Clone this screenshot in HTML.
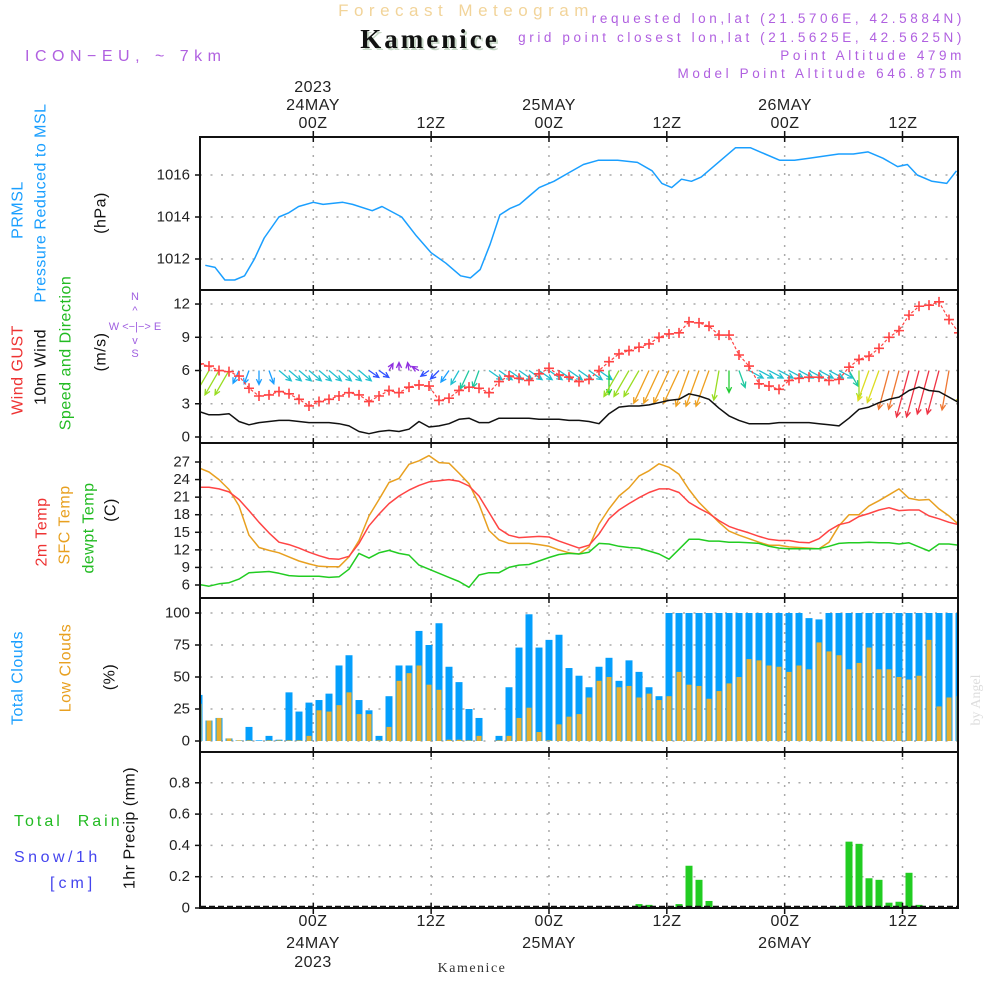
<!DOCTYPE html>
<html><head><meta charset="utf-8"><title>Meteogram Kamenice</title>
<style>
html,body{margin:0;padding:0;background:#fff;}
svg{display:block;font-family:"Liberation Sans",sans-serif;}
.tk{font-size:15px;fill:#222;text-anchor:end;dominant-baseline:central;}
.lbl{font-size:16px;dominant-baseline:central;text-anchor:middle;letter-spacing:0.5px;}
.tl{font-size:16px;fill:#222;text-anchor:middle;letter-spacing:0.5px;}
</style></head>
<body>
<svg id="chart" width="1000" height="1000" viewBox="0 0 1000 1000" xmlns="http://www.w3.org/2000/svg">
<rect x="0" y="0" width="1000" height="1000" fill="#fff"/>
<!-- header -->
<text x="466" y="16" font-size="17" fill="#f2d49a" text-anchor="middle" letter-spacing="5.5">Forecast Meteogram</text>
<text x="432" y="50" font-size="27" font-weight="bold" font-family="Liberation Serif, serif" fill="#c8d8c8" text-anchor="middle" letter-spacing="3">Kamenice</text>
<text x="430" y="48" font-size="27" font-weight="bold" font-family="Liberation Serif, serif" fill="#111" text-anchor="middle" letter-spacing="3">Kamenice</text>
<text x="25" y="61" font-size="16" fill="#b060e0" letter-spacing="5.5">ICON−EU, ~ 7km</text>
<g font-size="13.5" fill="#b060e0" text-anchor="end" letter-spacing="3.6">
<text x="965" y="23">requested lon,lat (21.5706E, 42.5884N)</text>
<text x="965" y="42">grid point closest lon,lat (21.5625E, 42.5625N)</text>
<text x="965" y="60">Point Altitude 479m</text>
<text x="965" y="78">Model Point Altitude 646.875m</text>
</g>
<!-- top time labels -->
<g>
<text class="tl" x="313" y="92">2023</text>
<text class="tl" x="313" y="110">24MAY</text>
<text class="tl" x="313" y="128">00Z</text>
<text class="tl" x="431" y="128">12Z</text>
<text class="tl" x="549" y="110">25MAY</text>
<text class="tl" x="549" y="128">00Z</text>
<text class="tl" x="667" y="128">12Z</text>
<text class="tl" x="785" y="110">26MAY</text>
<text class="tl" x="785" y="128">00Z</text>
<text class="tl" x="903" y="128">12Z</text>
</g>
<g>
<text class="tl" x="313" y="926">00Z</text>
<text class="tl" x="313" y="948">24MAY</text>
<text class="tl" x="313" y="967">2023</text>
<text class="tl" x="431" y="926">12Z</text>
<text class="tl" x="549" y="926">00Z</text>
<text class="tl" x="549" y="948">25MAY</text>
<text class="tl" x="667" y="926">12Z</text>
<text class="tl" x="785" y="926">00Z</text>
<text class="tl" x="785" y="948">26MAY</text>
<text class="tl" x="903" y="926">12Z</text>
<text x="472" y="972" font-size="14" font-family="Liberation Serif, serif" fill="#333" text-anchor="middle" letter-spacing="1.5">Kamenice</text>
</g>
<text transform="translate(980,700) rotate(-90)" font-size="14" font-family="Liberation Serif, serif" fill="#ddd" text-anchor="middle">by Angel</text>
<!-- left labels -->
<g>
<text class="lbl" fill="#1a9fff" transform="translate(18,210) rotate(-90)">PRMSL</text>
<text class="lbl" fill="#1a9fff" transform="translate(41,203) rotate(-90)">Pressure Reduced to MSL</text>
<text class="lbl" fill="#111" transform="translate(101,213) rotate(-90)">(hPa)</text>
</g>
<g>
<text class="lbl" fill="#ee3333" transform="translate(18,370) rotate(-90)">Wind GUST</text>
<text class="lbl" fill="#111" transform="translate(41,367) rotate(-90)">10m Wind</text>
<text class="lbl" fill="#22bb22" transform="translate(66,353) rotate(-90)">Speed and Direction</text>
<text class="lbl" fill="#111" transform="translate(101,352) rotate(-90)">(m/s)</text>
<g font-size="11" fill="#a060e0" text-anchor="middle">
<text x="135" y="300">N</text><text x="135" y="314">^</text>
<text x="135" y="330">W &lt;−|−&gt; E</text>
<text x="135" y="344">v</text><text x="135" y="357">S</text>
</g>
</g>
<g>
<text class="lbl" fill="#ee3333" transform="translate(42,532) rotate(-90)">2m Temp</text>
<text class="lbl" fill="#e8a020" transform="translate(65,525) rotate(-90)">SFC Temp</text>
<text class="lbl" fill="#22bb22" transform="translate(89,528) rotate(-90)">dewpt Temp</text>
<text class="lbl" fill="#111" transform="translate(111,510) rotate(-90)">(C)</text>
</g>
<g>
<text class="lbl" fill="#1a9fff" transform="translate(18,678) rotate(-90)">Total Clouds</text>
<text class="lbl" fill="#e8a020" transform="translate(66,668) rotate(-90)">Low Clouds</text>
<text class="lbl" fill="#111" transform="translate(110,677) rotate(-90)">(%)</text>
</g>
<g>
<text x="14" y="826" font-size="16" fill="#22bb22" letter-spacing="3" xml:space="preserve">Total  Rain</text>
<text x="14" y="862" font-size="16" fill="#4444ee" letter-spacing="3.5">Snow/1h</text>
<text x="50" y="888" font-size="16" fill="#4444ee" letter-spacing="4">[cm]</text>
<text class="lbl" fill="#111" transform="translate(130,828) rotate(-90)">1hr Precip (mm)</text>
</g>
<g id="grid"></g>
<g id="marks"></g>
<g id="frames"></g>
</svg>
<script>
// ===== data =====
// pressure (hours from 24MAY 00Z)
const presHours = [-11,-10,-9,-8,-7,-6,-5,-3.5,-2.5,-1.5,0,1,3,4,6,7,9,10.5,12,13.5,15,16,17,18,19,20,21,22,23,24.5,26,27.5,29,31,33,34.5,35.5,36.5,37.5,38.5,39.5,40.5,41.5,43,44.5,46,47.5,49,50.5,52,53.5,55,56.5,58,59.5,60.5,61.5,63,64.5,65.5];
const presVals = [1011.7,1011.6,1011.0,1011.0,1011.2,1012.0,1013.0,1014.0,1014.2,1014.5,1014.7,1014.6,1014.7,1014.6,1014.3,1014.5,1014.0,1013.1,1012.3,1011.8,1011.2,1011.1,1011.5,1012.7,1014.1,1014.4,1014.6,1015.0,1015.4,1015.7,1016.1,1016.5,1016.7,1016.7,1016.6,1016.2,1015.6,1015.4,1015.8,1015.7,1015.9,1016.3,1016.7,1017.3,1017.3,1017.0,1016.7,1016.7,1016.8,1016.9,1017.0,1017.0,1017.1,1016.8,1016.4,1016.5,1016.0,1015.7,1015.6,1016.2];
const presTicks = [1012,1014,1016];
// hourly series (index 0..76)
const gust = [6.6,6.4,6.0,5.9,5.5,4.4,3.7,3.8,4.1,3.9,3.4,2.8,3.2,3.4,3.7,4.0,3.8,3.2,3.7,4.2,4.0,4.5,4.7,4.6,3.3,3.5,4.2,4.5,4.4,4.0,5.0,5.5,5.3,5.1,5.7,6.2,5.6,5.4,5.0,5.2,6.0,6.8,7.5,7.8,8.1,8.4,9.0,9.3,9.4,10.4,10.3,10.0,9.2,9.2,7.4,6.4,4.8,4.6,4.3,5.1,5.3,5.4,5.4,5.1,5.2,6.3,7.0,7.3,8.0,9.0,9.6,11.0,11.8,11.9,12.2,10.6,9.4];
const wind = [2.3,2.0,2.0,2.1,1.4,1.1,1.3,1.4,1.5,1.5,1.4,1.3,1.3,1.3,1.2,1.0,0.5,0.3,0.5,0.6,0.5,0.7,1.4,0.9,1.0,1.2,1.6,1.7,1.3,1.3,1.7,1.7,1.7,1.7,1.6,1.6,1.6,1.5,1.5,1.4,1.2,2.1,2.7,2.8,2.8,2.9,3.1,3.3,3.4,3.9,3.7,3.4,2.6,1.9,1.5,1.2,1.2,1.2,1.3,1.3,1.3,1.3,1.2,1.1,1.0,1.7,2.5,2.7,3.1,3.4,3.6,4.2,4.5,4.2,4.1,3.6,3.1];
const arrowDir = [210,210,210,210,205,200,180,160,130,130,130,130,130,130,130,130,130,125,125,30,0,350,300,235,225,215,210,205,200,125,125,125,125,125,125,125,125,125,125,125,125,180,210,210,210,205,205,205,205,200,200,200,190,180,160,118,118,118,118,118,118,118,118,118,118,150,180,200,200,195,195,195,195,195,195,190,180];
const arrowLen = [28,28,28,28,14,14,14,14,16,16,16,16,16,16,16,16,16,12,12,8,8,8,8,10,12,14,16,20,18,16,16,16,16,16,16,16,16,16,16,16,16,24,30,30,30,36,36,36,36,38,38,38,30,22,18,16,16,16,16,16,16,16,16,16,16,18,28,32,34,40,40,48,48,45,45,40,34];
const windTicks = [0,3,6,9,12];
const temp2m = [22.7,22.7,22.4,21.9,20.6,18.7,16.7,14.9,13.3,12.9,12.3,11.6,11.0,10.5,10.4,10.9,13.1,16.1,18.1,19.9,21.2,22.2,23.0,23.6,23.8,24.0,23.7,22.9,21.2,18.4,15.6,14.5,14.1,14.2,14.3,14.2,13.5,12.9,12.3,12.8,14.7,17.3,18.8,19.9,20.9,21.8,22.4,22.4,21.8,20.1,19.1,18.2,17.0,16.0,15.4,14.9,14.3,13.8,13.6,13.6,13.3,13.2,13.9,15.3,16.3,16.7,17.7,18.2,18.8,19.2,18.7,18.8,18.8,17.8,17.3,16.7,16.3];
const tempSfc = [26.0,25.3,24.0,22.3,19.5,14.5,12.4,11.9,11.5,10.8,10.1,9.6,9.2,9.1,9.1,10.8,13.6,17.8,20.6,23.5,24.2,26.6,27.2,28.1,26.9,26.8,25.1,23.3,19.8,15.3,13.7,13.1,13.1,13.1,12.9,12.6,12.0,11.5,11.3,12.5,16.4,19.0,21.2,22.6,24.6,25.5,26.7,26.1,24.9,22.3,20.1,18.4,16.7,15.2,14.5,13.9,13.3,12.8,12.8,12.5,12.4,12.3,12.2,13.3,16.1,18.0,18.0,19.5,20.4,21.4,22.4,20.8,20.5,20.6,19.0,17.8,16.3];
const dewpt = [6.1,5.8,6.2,6.4,7.0,8.1,8.2,8.3,8.0,7.6,7.5,7.5,7.5,7.3,7.4,8.7,11.4,10.6,11.5,11.9,11.4,11.1,9.4,8.7,8.0,7.3,6.6,5.6,7.7,8.1,8.1,9.0,9.4,9.5,10.1,10.7,11.2,11.4,11.3,11.6,13.1,13.0,12.6,12.4,12.3,11.8,11.3,10.4,12.1,13.8,13.8,13.5,13.5,13.3,13.3,13.2,13.1,12.6,12.3,12.2,12.2,12.2,12.2,12.6,13.1,13.2,13.2,13.3,13.2,13.2,13.0,13.2,12.5,11.8,13.0,13.0,12.8];
const tempTicks = [6,9,12,15,18,21,24,27];
const cloudTotal = [36,16,18,2,0.5,11,0.5,4,1,38,23,30,32,37,59,67,32,24,4,35,59,59,86,75,92,58,46,25,18,0,4,42,73,99,73,79,83,57,51,42,58,65,47,63,54,42,35,100,100,100,100,100,100,100,100,100,100,100,100,100,100,96,95,100,100,100,100,100,100,100,100,100,100,100,100,100,100];
const cloudLow = [29,16,18,2,0.5,0.5,0,0.5,0.5,0.5,0.5,4,24,23,28,38,21,21,0.5,11,47,53,59,44,40,1,1,0.5,4,0,0.5,4,18,26,7,0.5,13,19,21,34,47,50,42,43,34,37,32,35,54,44,43,33,39,45,50,64,63,59,58,54,59,56,77,70,67,56,61,73,56,56,50,48,51,79,27,34,35];
const cloudTicks = [0,25,50,75,100];
const precip = [0,0,0,0,0,0,0,0,0,0,0,0,0,0,0,0,0,0,0,0.005,0.005,0.005,0.005,0,0,0,0,0,0,0,0,0,0,0,0,0,0,0,0,0,0,0,0,0,0.025,0.02,0.003,0,0.025,0.27,0.18,0.045,0,0,0,0,0,0,0,0,0,0,0,0,0.008,0.424,0.41,0.19,0.18,0.034,0.04,0.225,0.02,0,0,0,0];
const precipTicks = [0,0.2,0.4,0.6,0.8];
const timeGridHours = [0,12,24,36,48,60];

// ===== axes =====
const X0=200, X1=958;
const xHour = h => 313.3 + h*9.82;
const xIdx = i => 199 + i*10;
const yPres = v => 175 - (v-1016)*21;
const yWind = v => 437 - v*11.08;
const yTemp = v => 585 - (v-6)*5.857;
const yCloud = v => 741 - v*1.28;
const yPrec = v => 908 - v*156.5;
const panels = [[137,290],[290,443],[443,598],[598,752],[752,908]];

const NS='http://www.w3.org/2000/svg';
function mk(tag, attrs, parent){const e=document.createElementNS(NS,tag);for(const k in attrs)e.setAttribute(k,attrs[k]);parent.appendChild(e);return e;}
const grid=document.getElementById('grid'), marks=document.getElementById('marks'), frames=document.getElementById('frames');
const defs=mk('defs',{},marks);
panels.forEach((p,k)=>{const cp=mk('clipPath',{id:'clip'+k},defs);mk('rect',{x:X0,y:p[0],width:X1-X0,height:p[1]-p[0]},cp);});

// vertical time grid
timeGridHours.forEach(h=>{
  const l=mk('line',{x1:xHour(h),x2:xHour(h),y1:137,y2:908,stroke:'#aaa','stroke-width':1.5,'stroke-dasharray':'2 7'},grid);
  
  
  panels.forEach(p=>{
    mk('line',{x1:xHour(h),x2:xHour(h),y1:p[0],y2:p[0]+5,stroke:'#111','stroke-width':1.5},frames);
    mk('line',{x1:xHour(h),x2:xHour(h),y1:p[1]-5,y2:p[1],stroke:'#111','stroke-width':1.5},frames);
  });
  mk('line',{x1:xHour(h),x2:xHour(h),y1:908,y2:914,stroke:'#111','stroke-width':1.5},frames);
  mk('line',{x1:xHour(h),x2:xHour(h),y1:131,y2:137,stroke:'#111','stroke-width':1.5},frames);
});
function yAxis(ticks, ys, fmt, name){
  ticks.forEach(t=>{
    const y=ys(t);
    const g=mk('line',{x1:X0,x2:X1,y1:y,y2:y,stroke:'#aaa','stroke-width':1.5,'stroke-dasharray':'2 8.5'},grid);
    
    
    mk('line',{x1:195,x2:X0,y1:y,y2:y,stroke:'#111','stroke-width':1.5},frames);
    const tx=mk('text',{x:190,y:y,class:'tk'},frames);
    tx.textContent=fmt(t);
    
    
  });
}
yAxis(presTicks,yPres,t=>String(t),'pressure');
yAxis(windTicks,yWind,t=>String(t),'wind');
yAxis(tempTicks,yTemp,t=>String(t),'temperature');
yAxis(cloudTicks,yCloud,t=>String(t),'cloud');
yAxis(precipTicks,yPrec,t=>t===0?'0':t.toFixed(1),'precip');

function line(xs, ys, color, clip, name, w){
  const d=xs.map((x,i)=>(i?'L':'M')+x.toFixed(1)+','+ys[i].toFixed(1)).join('');
  const p=mk('path',{d:d,fill:'none',stroke:color,'stroke-width':w||1.5,'clip-path':'url(#clip'+clip+')','stroke-linejoin':'round'},marks);
  
  
  return p;
}
// pressure
line(presHours.map(xHour), presVals.map(yPres), '#1a9fff', 0, 'pressure-line');

// wind arrows
function arrowColor(len){
  if(len<=9) return '#9030e0';
  if(len<=12) return '#3050ff';
  if(len<=14) return '#1a9fff';
  if(len<=16) return '#20c0d0';
  if(len<=20) return '#20c8a0';
  if(len<=26) return '#22cc33';
  if(len<=30) return '#99dd22';
  if(len<=34) return '#dddd22';
  if(len<=38) return '#eea020';
  if(len<=42) return '#ee7733';
  return '#ee3344';
}
const arrowG=mk('g',{'clip-path':'url(#clip1)'},marks);
arrowDir.forEach((dir,i)=>{
  const len=arrowLen[i], a=dir*Math.PI/180;
  const x0=xIdx(i), y0=yWind(6);
  const x1=x0+len*Math.sin(a), y1=y0-len*Math.cos(a);
  const c=arrowColor(len);
  const h=6, b1=a+Math.PI-0.45, b2=a+Math.PI+0.45;
  const d='M'+x0+','+y0+'L'+x1+','+y1+'M'+(x1+h*Math.sin(b1))+','+(y1-h*Math.cos(b1))+'L'+x1+','+y1+'L'+(x1+h*Math.sin(b2))+','+(y1-h*Math.cos(b2));
  const p=mk('path',{d:d,fill:'none',stroke:c,'stroke-width':1.3},arrowG);
  
  
});
// wind speed & gust
const idxX=gust.map((v,i)=>xIdx(i));
line(idxX, wind.map(yWind), '#111', 1, 'wind-speed-line');
const gl=line(idxX, gust.map(yWind), '#ff4444', 1, 'gust-line', 1.2);
gl.setAttribute('stroke-dasharray','3 2');
const gustG=mk('g',{'clip-path':'url(#clip1)'},marks);
gust.forEach((v,i)=>{
  const x=xIdx(i), y=yWind(v);
  const p=mk('path',{d:'M'+(x-5)+','+y+'L'+(x+5)+','+y+'M'+x+','+(y-5)+'L'+x+','+(y+5),stroke:'#ff4444','stroke-width':1.6},gustG);
  
  
});
// temperatures
line(idxX, tempSfc.map(yTemp), '#e8a020', 2, 'sfc-temp-line');
line(idxX, temp2m.map(yTemp), '#ff4444', 2, '2m-temp-line');
line(idxX, dewpt.map(yTemp), '#22cc22', 2, 'dewpoint-line');
// clouds
const cloudG=mk('g',{'clip-path':'url(#clip3)'},marks);
cloudTotal.forEach((v,i)=>{
  const x=xIdx(i);
  const r=mk('rect',{x:x-3.5,y:yCloud(v),width:7,height:yCloud(0)-yCloud(v),fill:'#049ffc'},cloudG);
  
  
  const lv=cloudLow[i];
  const r2=mk('rect',{x:x-2.5,y:yCloud(lv),width:5,height:yCloud(0)-yCloud(lv),fill:'#e8b030'},cloudG);
  
  
});
// precip
const precG=mk('g',{'clip-path':'url(#clip4)'},marks);
precip.forEach((v,i)=>{
  if(v<=0) return;
  const x=xIdx(i);
  const r=mk('rect',{x:x-3.5,y:yPrec(v),width:7,height:yPrec(0)-yPrec(v),fill:'#22cc22'},precG);
  
  
});
mk('line',{x1:X0,x2:X1,y1:907,y2:907,stroke:'#111','stroke-width':2.5,'stroke-dasharray':'6 3'},marks);
// frames
panels.forEach((p,k)=>{
  const r=mk('rect',{x:X0,y:p[0],width:X1-X0,height:p[1]-p[0],fill:'none',stroke:'#111','stroke-width':2},frames);
  
  
});
</script>
</body></html>
